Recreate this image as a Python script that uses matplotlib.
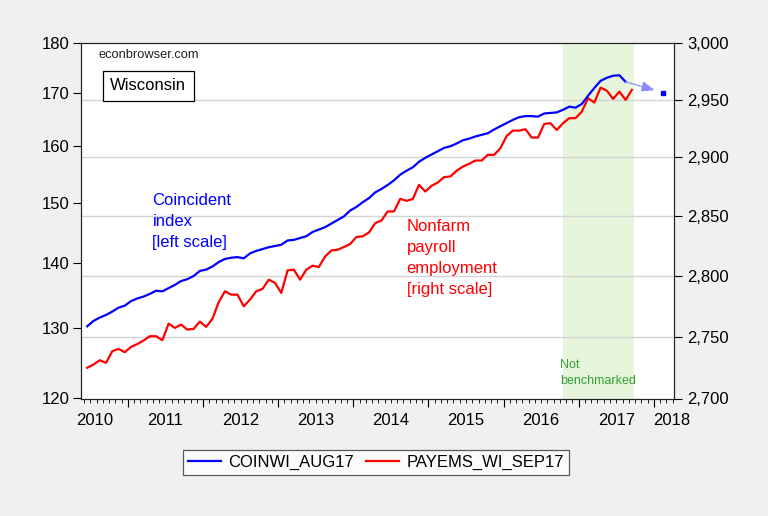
import numpy as np
import matplotlib
matplotlib.use("Agg")
import matplotlib.pyplot as plt
from matplotlib.ticker import FixedLocator, NullFormatter, NullLocator, FuncFormatter
from matplotlib.lines import Line2D

plt.rcParams['font.family'] = ['Liberation Sans', 'DejaVu Sans']

# ---------------- data ----------------
start_year, start_month = 2010, 6          # first observation (both series)
coin_label = "COINWI_AUG17"
payems_label = "PAYEMS_WI_SEP17"

# Coincident index, Wisconsin (left scale), Jun 2010 - Aug 2017
coin = [130.3, 131.1, 131.6, 132.0, 132.5, 133.1, 133.4, 134.1, 134.5, 134.8,
        135.2, 135.7, 135.6, 136.1, 136.6, 137.2, 137.5, 138.0, 138.8, 139.0,
        139.5, 140.2, 140.7, 140.9, 141.0, 140.8, 141.6, 142.0, 142.3, 142.6,
        142.8, 143.0, 143.7, 143.8, 144.1, 144.4, 145.1, 145.5, 145.9, 146.5,
        147.1, 147.7, 148.7, 149.3, 150.1, 150.8, 151.8, 152.4, 153.1, 153.9,
        154.9, 155.6, 156.2, 157.2, 157.9, 158.5, 159.1, 159.7, 160.0, 160.5,
        161.1, 161.4, 161.8, 162.1, 162.4, 163.1, 163.7, 164.3, 164.9, 165.4,
        165.6, 165.6, 165.5, 166.1, 166.2, 166.3, 166.8, 167.4, 167.2, 167.9,
        169.5, 171.0, 172.4, 173.0, 173.4, 173.5, 172.2]

# Nonfarm payroll employment, Wisconsin, thousands (right scale), Jun 2010 - Sep 2017
payems = [2724.7, 2727.3, 2730.8, 2728.7, 2738.1, 2740.0, 2737.3, 2741.6, 2743.9, 2746.8,
          2750.3, 2750.3, 2747.0, 2760.6, 2757.1, 2759.8, 2755.7, 2756.3, 2762.3, 2757.9,
          2764.5, 2778.1, 2787.2, 2784.4, 2784.4, 2774.8, 2780.3, 2787.2, 2789.1, 2796.8,
          2794.1, 2785.8, 2804.5, 2805.1, 2796.8, 2805.1, 2808.4, 2807.3, 2816.1, 2821.1,
          2821.7, 2824.0, 2826.5, 2832.4, 2832.9, 2836.2, 2844.1, 2846.3, 2853.9, 2853.9,
          2864.6, 2862.9, 2864.4, 2876.5, 2870.8, 2875.7, 2878.5, 2883.1, 2883.6, 2888.5,
          2892.1, 2894.5, 2897.3, 2897.3, 2902.2, 2902.2, 2908.0, 2918.5, 2923.1, 2923.1,
          2924.3, 2917.1, 2917.1, 2928.9, 2929.5, 2923.7, 2929.5, 2933.9, 2933.9, 2939.6,
          2951.3, 2947.5, 2960.6, 2957.9, 2950.7, 2957.1, 2949.8, 2958.6]

# forecast point for the coincident index
forecast_year, forecast_month = 2018, 2
forecast_value = 170.1

# not-benchmarked period
shade_start = (2016, 10)
shade_end = (2017, 9)

left_ticks = [120, 130, 140, 150, 160, 170, 180]
right_ticks = [2700, 2750, 2800, 2850, 2900, 2950, 3000]
year_labels = [2010, 2011, 2012, 2013, 2014, 2015, 2016, 2017, 2018]


def month_pos(y, m):
    return y + (m - 0.5) / 12.0


def series_x(n):
    xs = []
    for i in range(n):
        idx = start_month - 1 + i
        xs.append(month_pos(start_year + idx // 12, idx % 12 + 1))
    return np.array(xs)


coin_x = series_x(len(coin))
pay_x = series_x(len(payems))

# ---------------- figure ----------------
W, H = 768, 516
fig = plt.figure(figsize=(W / 100, H / 100), dpi=100, facecolor='#f0f0f0')
L, R, T, B = 81.4, 673.8, 43.0, 398.5
rect = [L / W, 1 - B / H, (R - L) / W, (B - T) / H]

ax2 = fig.add_axes(rect)           # right scale (drawn first)
ax = fig.add_axes(rect, sharex=ax2)
ax.patch.set_visible(False)
ax2.set_facecolor('white')

xmin, xmax = 2010.381, 2018.266
ax2.set_xlim(xmin, xmax)

# right axis (payrolls)
ax2.set_yscale('log')
ax2.set_ylim(2700, 3000)
ax2.yaxis.tick_right()
ax2.yaxis.set_major_locator(FixedLocator(right_ticks))
ax2.yaxis.set_minor_locator(NullLocator())
ax2.yaxis.set_major_formatter(FuncFormatter(lambda v, p: f"{int(round(v)):,}"))
ax2.yaxis.set_minor_formatter(NullFormatter())
for v in right_ticks[1:-1]:
    ax2.axhline(v, color='#d4d4d4', lw=1.0, zorder=1.5)

ax2.axvspan(month_pos(*shade_start), month_pos(*shade_end) + 0.03,
            color='#e6f5dc', lw=0, zorder=1)
ax2.plot(pay_x, payems, color='#ff0000', lw=1.6, zorder=3)

# left axis (coincident index)
ax.set_yscale('log')
ax.set_ylim(120, 180)
ax.yaxis.tick_left()
ax.yaxis.set_major_locator(FixedLocator(left_ticks))
ax.yaxis.set_minor_locator(NullLocator())
ax.yaxis.set_major_formatter(FuncFormatter(lambda v, p: f"{int(round(v))}"))
ax.yaxis.set_minor_formatter(NullFormatter())
ax.plot(coin_x, coin, color='#0000ff', lw=1.6, zorder=3)

fx = month_pos(forecast_year, forecast_month)
ax.plot([fx], [forecast_value], marker='s', ms=3.5, color='#0000ff', lw=0, zorder=4)
ax.annotate('', xy=(fx, forecast_value), xytext=(coin_x[-1], coin[-1]),
            arrowprops=dict(arrowstyle='-|>,head_length=0.8,head_width=0.3',
                            color='#8c8cff', lw=1.0, linestyle=(0, (2, 1)),
                            shrinkA=0, shrinkB=6), zorder=4)

# x axis ticks
for a in (ax, ax2):
    a.xaxis.set_major_locator(FixedLocator(list(range(2011, 2019))))
    a.xaxis.set_minor_locator(FixedLocator([2010 + j / 12 for j in range(0, 9 * 12 + 1)]))
    a.xaxis.set_major_formatter(NullFormatter())
    a.xaxis.set_minor_formatter(NullFormatter())
ax.tick_params(axis='x', which='major', direction='out', length=6, width=0.8)
ax.tick_params(axis='x', which='minor', direction='out', length=3, width=0.6)
ax2.tick_params(axis='x', which='both', length=0)

ax.tick_params(axis='y', which='major', direction='out', length=5.5, width=0.8,
               labelsize=12, pad=3)
ax2.tick_params(axis='y', which='major', direction='out', length=5.5, width=0.8,
                labelsize=12, pad=4)

for a in (ax, ax2):
    for s in a.spines.values():
        s.set_color('#222222')
        s.set_linewidth(0.8)

# year labels centred in each (visible) year
lab_pos = {y: y + 0.5 for y in year_labels}
lab_pos[2010] = 2010.56
lab_pos[2018] = 2018.237
for y in year_labels:
    ax.text(lab_pos[y], -0.062, str(y), transform=ax.get_xaxis_transform(),
            ha='center', va='center', fontsize=12, clip_on=False)

# annotations
ax.text(0.0285, 0.966, 'econbrowser.com', transform=ax.transAxes,
        fontsize=9.3, ha='left', va='center', color='#222222')
ax.text(0.113, 0.880, 'Wisconsin', transform=ax.transAxes, fontsize=12,
        ha='center', va='center',
        bbox=dict(boxstyle='square,pad=0.45', facecolor='white', edgecolor='black', lw=0.9))
ax.text(0.120, 0.4965, 'Coincident\nindex\n[left scale]', transform=ax.transAxes,
        fontsize=12, color='#0000ff', ha='left', va='center', linespacing=1.5)
ax.text(0.549, 0.395, 'Nonfarm\npayroll\nemployment\n[right scale]', transform=ax.transAxes,
        fontsize=12, color='#ff0000', ha='left', va='center', linespacing=1.5)
ax.text(0.808, 0.071, 'Not\nbenchmarked', transform=ax.transAxes,
        fontsize=9, color='#33a033', ha='left', va='center', linespacing=1.4)

# legend
handles = [Line2D([], [], color='#0000ff', lw=1.6), Line2D([], [], color='#ff0000', lw=1.6)]
leg = fig.legend(handles, [coin_label, payems_label], loc='center',
                 bbox_to_anchor=(376 / W, 1 - 462.5 / H), ncol=2, fontsize=12,
                 frameon=True, fancybox=False, edgecolor='#333333',
                 handlelength=2.0, handletextpad=0.45, columnspacing=0.7,
                 borderpad=0.3, borderaxespad=0)
leg.get_frame().set_linewidth(0.9)

fig.savefig('out.png', dpi=100, facecolor=fig.get_facecolor())
